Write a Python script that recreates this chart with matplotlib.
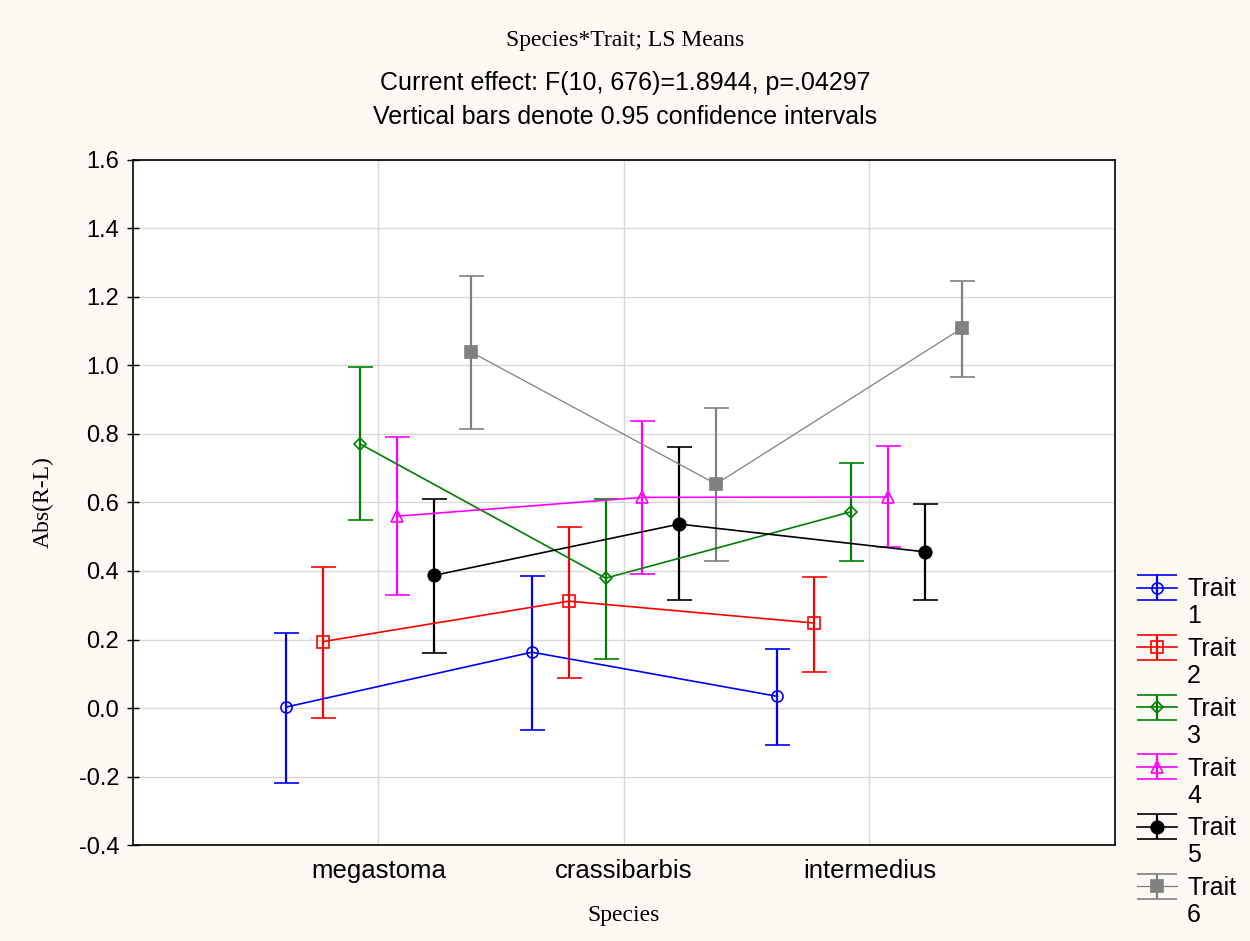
import matplotlib
matplotlib.use('Agg')
import matplotlib.pyplot as plt
from matplotlib.legend_handler import HandlerErrorbar
from matplotlib.lines import Line2D
import numpy as np

plt.rcParams.update({
    'font.family': ['Liberation Sans', 'DejaVu Sans'],
    'font.size': 16,
    'axes.linewidth': 1.2,
})

species = ["megastoma", "crassibarbis", "intermedius"]
traits = ["1", "2", "3", "4", "5", "6"]

# LS means and 0.95 CI bounds, one list per trait (megastoma, crassibarbis, intermedius)
t1_mean = [0.003, 0.163, 0.034]
t1_lo = [-0.220, -0.064, -0.107]
t1_hi = [0.218, 0.386, 0.171]
t2_mean = [0.194, 0.312, 0.248]
t2_lo = [-0.030, 0.088, 0.105]
t2_hi = [0.413, 0.529, 0.382]
t3_mean = [0.771, 0.379, 0.573]
t3_lo = [0.548, 0.143, 0.430]
t3_hi = [0.995, 0.610, 0.715]
t4_mean = [0.560, 0.615, 0.616]
t4_lo = [0.330, 0.392, 0.470]
t4_hi = [0.790, 0.837, 0.766]
t5_mean = [0.387, 0.537, 0.456]
t5_lo = [0.160, 0.315, 0.316]
t5_hi = [0.610, 0.761, 0.597]
t6_mean = [1.040, 0.654, 1.108]
t6_lo = [0.815, 0.430, 0.965]
t6_hi = [1.260, 0.875, 1.246]

means = [t1_mean, t2_mean, t3_mean, t4_mean, t5_mean, t6_mean]
lows = [t1_lo, t2_lo, t3_lo, t4_lo, t5_lo, t6_lo]
highs = [t1_hi, t2_hi, t3_hi, t4_hi, t5_hi, t6_hi]

colors = ['#0000ff', '#ff0000', '#008000', '#ff00ff', '#000000', '#808080']
markers = ['o', 's', 'D', '^', 'o', 's']
filled = [False, False, False, False, True, True]
msizes = [8, 8, 6, 8, 9, 9]


class WideCaps(HandlerErrorbar):
    # legend caps as wide as the handle, like the Statistica legend
    def create_artists(self, *args, **kw):
        arts = super().create_artists(*args, **kw)
        for a in arts:
            if isinstance(a, Line2D) and a.get_marker() == '_':
                a.set_markersize(29)
        return arts


BG = '#fcfaf3'
fig = plt.figure(figsize=(12.5, 9.41), dpi=100, facecolor=BG)
ax = fig.add_axes([0.1064, 0.102, 0.7856, 0.728])
ax.set_facecolor('white')

xc = np.arange(1, len(species) + 1)
conts = []
for i in range(len(traits)):
    x = xc + (i - 2.5) * 0.15
    m = np.array(means[i])
    err = [m - np.array(lows[i]), np.array(highs[i]) - m]
    lw = 0.9 if i == 5 else 1.2
    c = ax.errorbar(x, m, yerr=err, fmt='-' + markers[i], color=colors[i], lw=lw,
                    mfc=colors[i] if filled[i] else 'none', mec=colors[i],
                    ms=msizes[i], mew=1.2, elinewidth=1.6, capsize=9, capthick=1.6,
                    label='Trait', zorder=4)
    conts.append(c)

ax.set_xlim(0, 4)
ax.set_ylim(-0.4, 1.6)
yt = np.arange(-0.4, 1.61, 0.2)
ax.set_yticks(yt)
ax.set_yticklabels([f'{v:.1f}' for v in yt])
ax.set_xticks(xc)
ax.set_xticklabels(species)
ax.grid(True, color='#d9d9d9', lw=1.0)
ax.set_axisbelow(True)
ax.tick_params(axis='y', direction='inout', length=8, width=1, labelsize=17, pad=6)
ax.tick_params(axis='x', length=0, pad=10, labelsize=18.5)

ax.set_xlabel('Species', family=['Liberation Serif'], fontsize=17, labelpad=16)
ax.set_ylabel('Abs(R-L)', family=['Liberation Serif'], fontsize=17)
ax.yaxis.set_label_coords(-0.081, 0.5)

fig.text(0.5, 0.957, 'Species*Trait; LS Means', ha='center', va='center',
         family=['Liberation Serif'], fontsize=17)
fig.text(0.5, 0.912, 'Current effect: F(10, 676)=1.8944, p=.04297', ha='center',
         va='center', fontsize=18)
fig.text(0.5, 0.876, 'Vertical bars denote 0.95 confidence intervals', ha='center',
         va='center', fontsize=18)

leg = ax.legend(conts, ['Trait'] * len(traits), loc='upper left',
                bbox_to_anchor=(0.9016, 0.397), bbox_transform=fig.transFigure,
                frameon=False, fontsize=18, handlelength=1.6, handletextpad=0.4,
                labelspacing=1.43, borderaxespad=0,
                handler_map={type(conts[0]): WideCaps()})

# trait numbers on a second line under each "Trait" label
fig.canvas.draw()
W, H = fig.bbox.width, fig.bbox.height
for t, num in zip(leg.get_texts(), traits):
    bb = t.get_window_extent()
    fig.text(bb.x0 / W, (bb.y0 - 3) / H, num, ha='left', va='top', fontsize=18)

fig.savefig('out.png', dpi=100, facecolor=BG)
